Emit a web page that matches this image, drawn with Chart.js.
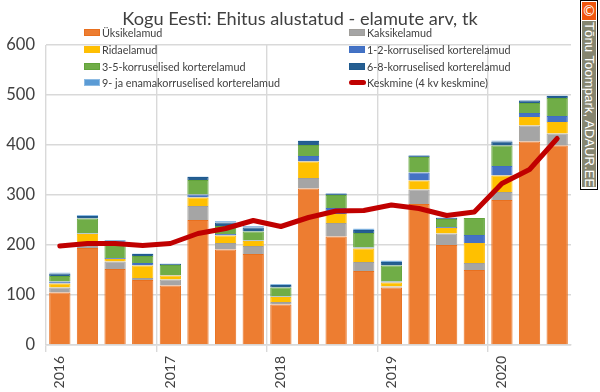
<!DOCTYPE html>
<html><head><meta charset="utf-8">
<script src="https://cdn.jsdelivr.net/npm/chart.js@4"></script>
<style>
html,body{margin:0;padding:0;background:#fff;overflow:hidden}
#wrap{position:relative;width:600px;height:392px;font-family:Lato,sans-serif}
#title{position:absolute;left:0;top:7px;width:600px;text-align:center;font-size:18.2px;line-height:22px;color:#404040;white-space:nowrap}
#legend{position:absolute;left:0;top:0;width:100%;height:100%;pointer-events:none;font-size:10.8px;color:#404040}
.li{position:absolute;height:14px;line-height:14px;white-space:nowrap}
.sw{position:absolute;left:0;top:3px;width:16px;height:7px;box-sizing:border-box;border:1px solid}
.sl{position:absolute;left:0;top:4px;width:17px;height:5px;border-radius:3px}
.tx{position:absolute;left:18px;top:0}
#mark{position:absolute;left:580px;top:0;width:18px;height:190px;box-sizing:border-box;border:1px solid #000;background:#fff;padding:1px}
#c1{height:18px;background:#F0560E;color:#fff;font:14px "DejaVu Sans",sans-serif;text-align:center;line-height:18px}
#c2{position:relative;height:166px;margin-top:1px;background:#85856F}
#c2 span{position:absolute;left:14px;top:1px;transform-origin:0 0;transform:rotate(90deg);white-space:nowrap;color:#fff;font:13.2px "Liberation Sans",sans-serif;line-height:14px}
</style></head><body>
<div id="wrap"><canvas id="c" width="600" height="392"></canvas><div id="title">Kogu Eesti: Ehitus alustatud - elamute arv, tk</div><div id="legend"></div>
<div id="mark"><div id="c1">©</div><div id="c2"><span>Tõnu Toompark, ADAUR.EE</span></div></div></div>
<script>
const categories=['2016','','','','2017','','','','2018','','','','2019','','','','2020','',''];
const yksikelamud=[105,194,152,130,119,250,191,182,81,313,217,148,115,282,200,150,290,407,399];
const kaksikelamud=[10,6,15,4,12,28,13,16,5,21,27,18,2,29,23,14,16,32,24];
const ridaelamud=[8,22,5,25,8,17,15,10,10,33,18,27,8,18,11,40,33,17,23];
const korrus12=[4,1,2,5,1,6,3,1,1,11,12,2,2,16,2,16,19,8,12];
const korrus35=[11,30,29,14,20,29,16,18,18,22,26,29,32,31,16,34,41,20,36];
const korrus68=[5,5,3,4,2,6,7,8,5,8,3,6,7,3,2,0,8,5,4];
const korrus9=[2,2,4,1,1,1,3,3,2,1,1,3,3,1,1,0,2,1,1];
const keskmine=[198,203,203,199,203,223,233,249,237,255,268,269,280,273,259,266,323,351,413];
const yTicks=[0,100,200,300,400,500,600];

const bar=(label,data,c,b)=>({type:'bar',label,data,backgroundColor:c,borderColor:b,borderWidth:1,
  barPercentage:0.77,categoryPercentage:1,stack:'a',order:1});
const datasets=[
 bar('Üksikelamud',yksikelamud,'#ED7D31','#E8701F'),
 bar('Kaksikelamud',kaksikelamud,'#A5A5A5','#A09E9A'),
 bar('Ridaelamud',ridaelamud,'#FFC000','#FDBD0A'),
 bar('1-2-korruselised korterelamud',korrus12,'#4472C4','#3F6FC4'),
 bar('3-5-korruselised korterelamud',korrus35,'#70AD47','#62A33A'),
 bar('6-8-korruselised korterelamud',korrus68,'#255E91','#1F5A8E'),
 bar('9- ja enamakorruselised korterelamud',korrus9,'#5B9BD5','#8DBBE3'),
 {type:'line',label:'Keskmine (4 kv keskmine)',data:keskmine,borderColor:'#C00000',backgroundColor:'#C00000',
  borderWidth:5,pointRadius:0,tension:0,borderCapStyle:'round',borderJoinStyle:'round',stack:'l',order:0}
];
new Chart(document.getElementById('c'),{
 type:'bar',
 data:{labels:categories,datasets},
 options:{
  responsive:false,animation:false,
  layout:{padding:{left:0,right:29,top:45,bottom:0}},
  plugins:{legend:{display:false},tooltip:{enabled:false},title:{display:false}},
  scales:{
   x:{stacked:true,
    afterFit:s=>{s.height=47},
    grid:{offset:true,tickLength:7,lineWidth:1.4,
      color:c=>(c.index!==undefined&&c.index%4===0)?'#d9d9d9':'rgba(0,0,0,0)',
      tickColor:c=>(c.index!==undefined&&c.index%4===0)?'#d9d9d9':'rgba(0,0,0,0)'},
    border:{color:'#d9d9d9',width:1.4},
    ticks:{autoSkip:false,maxRotation:90,minRotation:90,color:'#404040',font:{family:'Lato',size:14},padding:4}},
   y:{stacked:true,min:0,max:600,
    afterBuildTicks:s=>{s.ticks=yTicks.map(v=>({value:v}))},
    afterFit:s=>{s.width=46},
    grid:{color:'#d9d9d9',lineWidth:1.4,tickLength:0},
    border:{display:false},
    ticks:{color:'#404040',font:{family:'Lato',size:16.5},padding:11}}
  }
 }
});
const lg=document.getElementById('legend');
const colX=[84,349],rowY=[26,43,60,76];
datasets.forEach((d,i)=>{
 const el=document.createElement('div');el.className='li';
 el.style.left=colX[i%2]+'px';el.style.top=rowY[i>>1]+'px';
 const s=document.createElement('div');
 if(d.type==='line'){s.className='sl';s.style.background=d.borderColor;}
 else{s.className='sw';s.style.background=d.backgroundColor;s.style.borderColor=d.borderColor;}
 const t=document.createElement('div');t.className='tx';t.textContent=d.label;
 el.append(s,t);lg.append(el);
});
</script></body></html>
